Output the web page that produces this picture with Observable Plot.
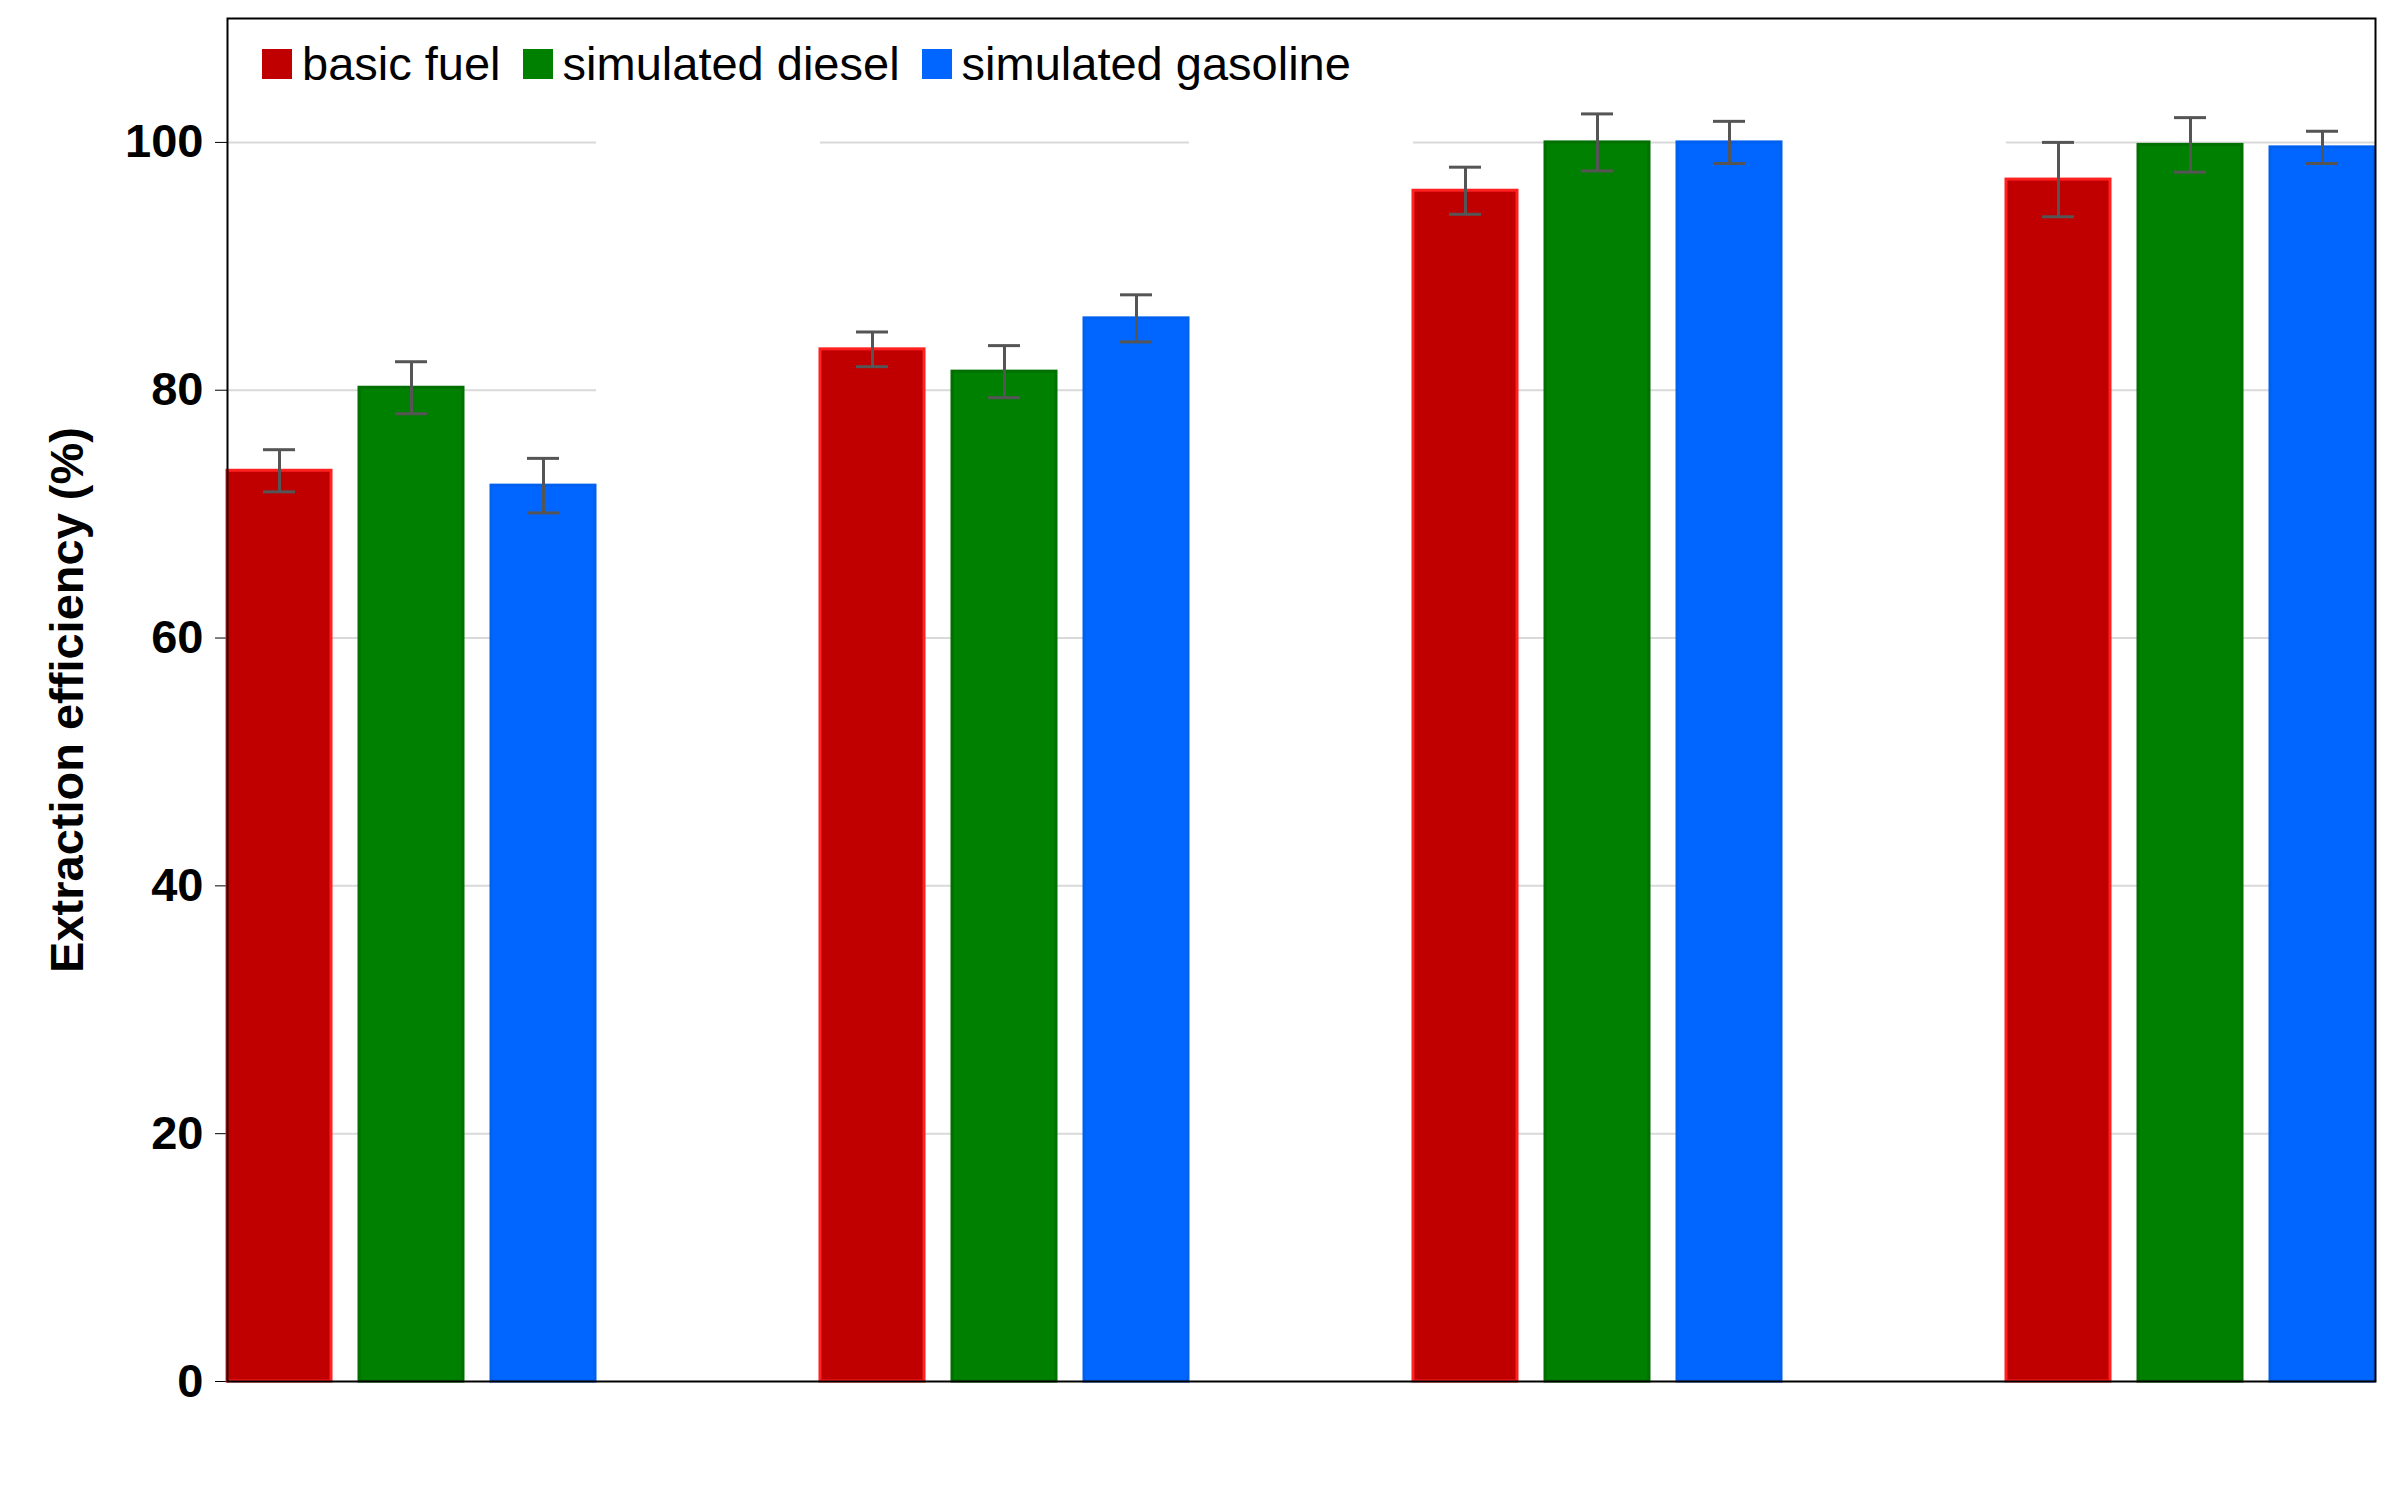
<!DOCTYPE html>
<html><head><meta charset="utf-8">
<script src="https://cdn.jsdelivr.net/npm/d3@7"></script>
<script src="https://cdn.jsdelivr.net/npm/@observablehq/plot@0.6"></script>
<style>
body{margin:0;background:#fff;font-family:"Liberation Sans",Arial,sans-serif}
#wrap{position:relative;width:2384px;height:1501px}
#legend{position:absolute;left:262px;top:36px;display:flex;font-size:47px;color:#000;align-items:center}
#legend span.sw{display:inline-block;width:30px;height:30px;margin-right:10px}
#legend .it{display:flex;align-items:center;margin-right:22px}
</style></head><body>
<div id="wrap"><div id="chart"></div><div id="legend"></div></div>
<script>
const compounds = ["Thiophene","DBT","Pyridine","Carbazole"];
const fuels = ["basic fuel","simulated diesel","simulated gasoline"];
const fills = ["#c00000","#008000","#0066ff"];
const strokes = ["#ff2020","#007000","#0060f0"];
const basic = [73.5,83.3,96.1,97.0];
const diesel = [80.2,81.5,100,99.8];
const gasoline = [72.3,85.8,100,99.6];
const errBasic = [1.7,1.4,1.9,3.0];
const errDiesel = [2.1,2.1,2.3,2.2];
const errGasoline = [2.2,1.9,1.7,1.3];
const yTicks = [0,20,40,60,80,100];

const vals=[basic,diesel,gasoline], errs=[errBasic,errDiesel,errGasoline];
const data=[];
compounds.forEach((c,i)=>fuels.forEach((f,j)=>data.push({c,f,v:vals[j][i],e:errs[j][i]})));

const chart = Plot.plot({
  width:2384,height:1501,marginLeft:226,marginRight:8,marginTop:18,marginBottom:120,
  style:{fontFamily:"Liberation Sans, Arial, sans-serif",fontSize:"47px",fontWeight:"bold",color:"#000"},
  fx:{domain:compounds,padding:0.377,label:null},
  x:{domain:fuels,padding:0.21,paddingOuter:0,axis:null},
  y:{domain:[0,110],label:null},
  color:{domain:fuels,range:fills},
  marks:[
    Plot.gridY(yTicks.filter(d=>d>0),{stroke:"#d9d9d9",strokeOpacity:1,strokeWidth:2}),
    Plot.axisY(yTicks,{tickSize:12,tickPadding:12,stroke:"#000",label:"Extraction efficiency (%)",labelAnchor:"center",labelArrow:"none",labelOffset:178,fontSize:47,fontWeight:"bold"}),
    Plot.axisFx({tickSize:0,tickPadding:40,fontSize:47,fontWeight:"bold"}),
    Plot.barY(data,{fx:"c",x:"f",y:"v",fill:"f",stroke:d=>strokes[fuels.indexOf(d.f)],strokeWidth:3}),
    Plot.ruleX(data,{fx:"c",x:"f",y1:d=>d.v-d.e,y2:d=>d.v+d.e,stroke:"#555",strokeWidth:3}),
    Plot.tickY(data,{fx:"c",x:"f",y:d=>d.v-d.e,stroke:"#555",strokeWidth:3,insetLeft:36,insetRight:36}),
    Plot.tickY(data,{fx:"c",x:"f",y:d=>d.v+d.e,stroke:"#555",strokeWidth:3,insetLeft:36,insetRight:36}),
    Plot.frame({stroke:"#000",strokeWidth:2,facet:"super"})
  ]
});
document.getElementById("chart").append(chart);
const lg=document.getElementById("legend");
fuels.forEach((f,j)=>{const d=document.createElement("div");d.className="it";
d.innerHTML=`<span class="sw" style="background:${fills[j]}"></span>${f}`;lg.append(d);});
</script></body></html>
